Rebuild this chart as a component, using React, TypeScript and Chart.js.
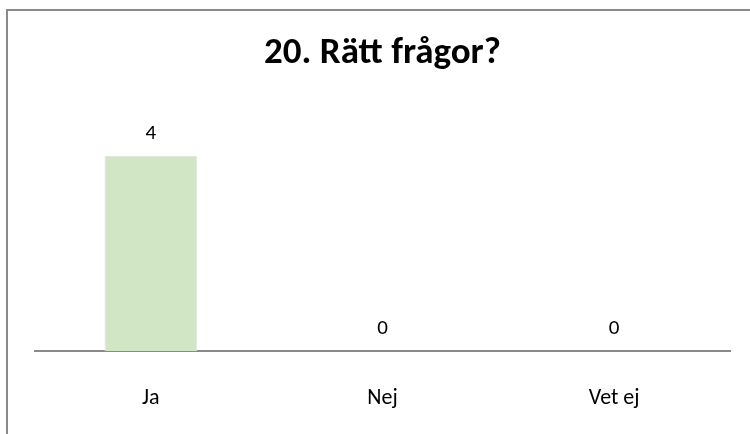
import React, { useEffect, useRef } from "react";
import { Chart, registerables } from "chart.js";

Chart.register(...registerables);

const categories = ["Ja", "Nej", "Vet ej"];
const values = [4, 0, 0];
const titleText = "20. Rätt frågor?";

const FONT = "Carlito, Lato, sans-serif";

const frameAndLabels = {
  id: "frameAndLabels",
  beforeDraw(chart: any) {
    const ctx = chart.ctx;
    ctx.save();
    ctx.fillStyle = "#ffffff";
    ctx.fillRect(0, 0, chart.width, chart.height);
    ctx.strokeStyle = "#8a8a8a";
    ctx.lineWidth = 2;
    ctx.beginPath();
    ctx.moveTo(7, chart.height);
    ctx.lineTo(7, 10);
    ctx.lineTo(chart.width, 10);
    ctx.stroke();
    ctx.restore();
  },
  afterDatasetsDraw(chart: any) {
    const ctx = chart.ctx;
    const meta = chart.getDatasetMeta(0);
    ctx.save();
    ctx.fillStyle = "#000000";
    ctx.font = `21px ${FONT}`;
    ctx.textAlign = "center";
    ctx.textBaseline = "alphabetic";
    meta.data.forEach((bar: any, i: number) => {
      const v = chart.data.datasets[0].data[i];
      ctx.fillText(String(v), bar.x, bar.y - 17);
    });
    ctx.restore();
  },
};

export default function App() {
  const ref = useRef<HTMLCanvasElement>(null);
  useEffect(() => {
    document.body.style.margin = "0";
    const chart = new Chart(ref.current!, {
      type: "bar",
      data: {
        labels: categories,
        datasets: [
          {
            data: values,
            backgroundColor: "#d0e6c5",
            borderColor: "#e2e6df",
            borderWidth: 1,
            barPercentage: 0.4,
            categoryPercentage: 1,
          },
        ],
      },
      options: {
        animation: false,
        responsive: false,
        layout: { padding: { top: 10, left: 35, right: 20, bottom: 0 } },
        plugins: {
          legend: { display: false },
          tooltip: { enabled: false },
          title: {
            display: true,
            text: titleText,
            color: "#000000",
            font: { family: FONT, size: 37, weight: "bold" },
            padding: { top: 22, bottom: 31 },
          },
        },
        scales: {
          y: { display: false, min: 0, max: 5 },
          x: {
            grid: { display: false, drawTicks: false },
            border: { display: true, color: "#8a8a8a", width: 2 },
            ticks: { color: "#000000", font: { family: FONT, size: 22 }, padding: 34 },
            afterFit: (scale: any) => {
              scale.height = 83;
            },
          },
        },
      },
      plugins: [frameAndLabels],
    });
    return () => chart.destroy();
  }, []);
  return <canvas ref={ref} width={750} height={434} style={{ display: "block" }} />;
}
